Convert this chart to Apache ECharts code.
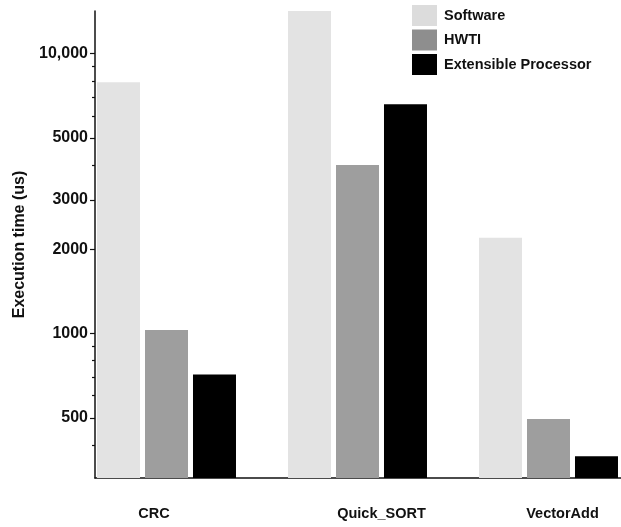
<!DOCTYPE html>
<html><head><meta charset="utf-8">
<script src="https://cdn.jsdelivr.net/npm/echarts@6/dist/echarts.min.js"></script>
<style>html,body{margin:0;padding:0;background:#fff}#c{width:621px;height:527px}</style>
</head><body><div id="c"></div>
<script>
const categories = ['CRC', 'Quick_SORT', 'VectorAdd'];
const seriesNames = ['Software', 'HWTI', 'Extensible Processor'];
const software = [7900, 14300, 2200];
const hwti = [1030, 4000, 495];
const extensible = [715, 6600, 365];
const yTickLabels = [500, 1000, 2000, 3000, 5000, 10000];
const yMinorTicks = [400, 600, 700, 800, 900, 4000, 6000, 7000, 8000, 9000];

const FONT = '"Liberation Sans", Arial, Helvetica, sans-serif';
const barColors = ['#e3e3e3', '#9e9e9e', '#000000'];
const legendColors = ['#dcdcdc', '#8e8e8e', '#000000'];
const labelShift = { 'CRC': [0, 73, 0, 0], 'Quick_SORT': [0, 0, 0, 0], 'VectorAdd': [0, 20, 0, 0] };
const Y_MIN = 305, Y_MAX = 14200;

const chart = echarts.init(document.getElementById('c'), null, { renderer: 'canvas' });
const mkSeries = (name, data, color) => ({
  name, type: 'bar', data, barWidth: 43, barGap: '11.6%', clip: true,
  itemStyle: { color }, emphasis: { disabled: true }
});
chart.setOption({
  animation: false,
  textStyle: { fontFamily: FONT },
  grid: { left: 95, top: 11, bottom: 49, width: 573, containLabel: false, outerBoundsMode: 'none' },
  legend: {
    orient: 'vertical', left: 412, top: 5, padding: 0, itemWidth: 25, itemHeight: 21, itemGap: 3.5,
    selectedMode: false,
    textStyle: { fontFamily: FONT, fontWeight: 'bold', fontSize: 14.5, color: '#111', padding: [0, 0, 0, 2] },
    data: seriesNames.map((n, i) => ({ name: n, icon: 'rect', itemStyle: { color: legendColors[i] } }))
  },
  xAxis: {
    type: 'category', data: categories,
    axisLine: { lineStyle: { color: '#111', width: 1.5 } },
    axisTick: { show: false },
    axisLabel: {
      margin: 28, interval: 0,
      formatter: v => '{' + (v === 'CRC' ? 'a' : v === 'VectorAdd' ? 'c' : 'b') + '|' + v + '}',
      rich: {
        a: { fontFamily: FONT, fontWeight: 'bold', fontSize: 14.5, color: '#111', padding: labelShift['CRC'] },
        b: { fontFamily: FONT, fontWeight: 'bold', fontSize: 14.5, color: '#111', padding: labelShift['Quick_SORT'] },
        c: { fontFamily: FONT, fontWeight: 'bold', fontSize: 14.5, color: '#111', padding: labelShift['VectorAdd'] }
      }
    },
    splitLine: { show: false }
  },
  yAxis: [{
    type: 'log', logBase: 10, min: Y_MIN, max: Y_MAX,
    name: 'Execution time (us)', nameLocation: 'middle', nameRotate: 90, nameGap: 67,
    nameTextStyle: { fontFamily: FONT, fontWeight: 'bold', fontSize: 16, color: '#111' },
    axisLine: { show: true, lineStyle: { color: '#111', width: 1.5 } },
    axisTick: { show: true, length: 5, lineStyle: { color: '#111', width: 1.2 }, customValues: yTickLabels },
    axisLabel: {
      margin: 7, fontFamily: FONT, fontWeight: 'bold', fontSize: 16, color: '#111',
      customValues: yTickLabels,
      formatter: v => v >= 10000 ? Math.round(v).toLocaleString('en-US') : String(Math.round(v))
    },
    splitLine: { show: false },
    minorTick: { show: false }
  }, {
    type: 'log', logBase: 10, min: Y_MIN, max: Y_MAX, position: 'left', offset: 0,
    axisLine: { show: false },
    axisTick: { show: true, length: 3, lineStyle: { color: '#111', width: 1.2 }, customValues: yMinorTicks },
    axisLabel: { show: false },
    splitLine: { show: false }
  }],
  series: [
    mkSeries(seriesNames[0], software, barColors[0]),
    mkSeries(seriesNames[1], hwti, barColors[1]),
    mkSeries(seriesNames[2], extensible, barColors[2]),
    { name: '_slot', type: 'bar', data: categories.map(() => null), barWidth: 43, barGap: '11.6%', silent: true, itemStyle: { color: 'transparent' } }
  ]
});
</script></body></html>
